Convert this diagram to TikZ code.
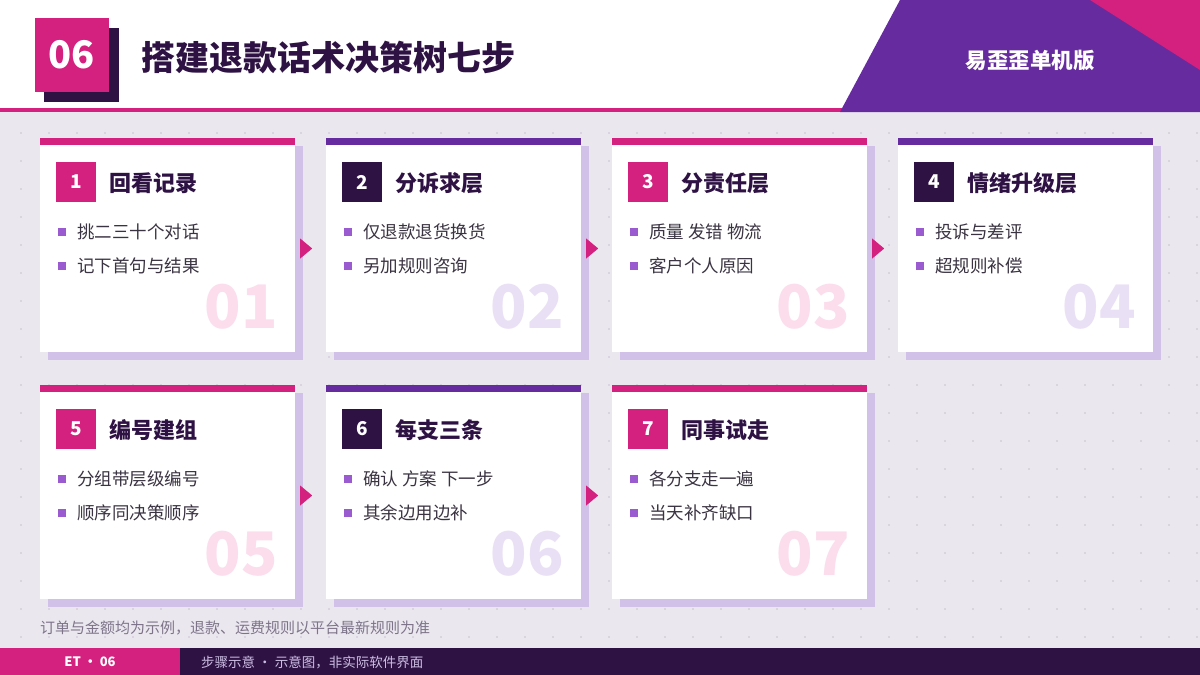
\documentclass[tikz,border=0pt]{standalone}
\usepackage{fontspec}
\setmainfont{Noto Sans CJK SC}
\usetikzlibrary{positioning}

\definecolor{mpink}{HTML}{D4207E}
\definecolor{mpurple}{HTML}{662B9E}
\definecolor{mdark}{HTML}{2E1244}
\definecolor{bgc}{HTML}{EBE7EF}
\definecolor{dotc}{HTML}{D9D4E0}
\definecolor{shadowc}{HTML}{D1C0E8}
\definecolor{bulc}{HTML}{9B5BD0}
\definecolor{txtc}{HTML}{3A3342}
\definecolor{lpink}{HTML}{FBDDEC}
\definecolor{lpurple}{HTML}{E9E0F5}
\definecolor{notec}{HTML}{7D7489}
\definecolor{foottxt}{HTML}{CDBEE3}

\begin{document}
\begin{tikzpicture}[x=1pt,y=-1pt]
	\def \rowoneht{138}
	\def \rowtwoht{385}
	\tikzstyle{badge}=[rectangle,inner sep=0pt,minimum size=40pt,text=white,font=\fontsize{19pt}{22pt}\selectfont\bfseries]
	\tikzstyle{ttl}=[inner sep=0pt,text=mdark,font=\fontsize{22pt}{26pt}\selectfont\bfseries]
	\tikzstyle{sq}=[rectangle,fill=bulc,inner sep=0pt,minimum size=8pt]
	\tikzstyle{btxt}=[inner sep=0pt,text=txtc,font=\fontsize{17.5pt}{21pt}\selectfont]
	\tikzstyle{bignum}=[inner sep=0pt,font=\fontsize{60pt}{64pt}\selectfont\bfseries]
	\tikzstyle{cardbody}=[rectangle,fill=white,inner sep=0pt,minimum width=255pt,minimum height=207pt]
	\useasboundingbox (0,0) rectangle (1200,675);
	
	% background and dots
	\fill[bgc] (0,0) rectangle (1200,675);
	\foreach \i in {0,...,42}
		\foreach \j in {4,...,22}
			\fill[dotc] (19.8+28*\i,19.8+28*\j) rectangle ++(2.4,2.4);
	
	% header
	\fill[white] (0,0) rectangle (1200,108);
	\fill[mpink] (0,108) rectangle (1200,112);
	\fill[mpurple] (900,0) -- (1200,0) -- (1200,112) -- (840,112) -- cycle;
	\fill[mpink] (1090,0) -- (1200,0) -- (1200,70) -- cycle;
	\fill[mdark] (44,28) rectangle (119,102);
	\node[rectangle,fill=mpink,minimum width=74pt,minimum height=74pt,inner sep=0pt,text=white,font=\fontsize{38pt}{40pt}\selectfont\bfseries] (secno) at (71.5,55) {06};
	\node[anchor=west,inner sep=0pt,text=mdark,font=\fontsize{34pt}{38pt}\selectfont\bfseries] (head) at (141,58) {搭建退款话术决策树七步};
	\node[inner sep=0pt,text=white,font=\fontsize{21.5pt}{24pt}\selectfont\bfseries] (edition) at (1030,60) {易歪歪单机版};
	
	% cards
	\foreach \n/\x/\y/\bc/\kc/\lc/\title/\a/\b in {
		1/40/\rowoneht/mpink/mpink/lpink/回看记录/挑二三十个对话/记下首句与结果,
		2/326/\rowoneht/mpurple/mdark/lpurple/分诉求层/仅退款退货换货/另加规则咨询,
		3/612/\rowoneht/mpink/mpink/lpink/分责任层/质量 发错 物流/客户个人原因,
		4/898/\rowoneht/mpurple/mdark/lpurple/情绪升级层/投诉与差评/超规则补偿,
		5/40/\rowtwoht/mpink/mpink/lpink/编号建组/分组带层级编号/顺序同决策顺序,
		6/326/\rowtwoht/mpurple/mdark/lpurple/每支三条/确认 方案 下一步/其余边用边补,
		7/612/\rowtwoht/mpink/mpink/lpink/同事试走/各分支走一遍/当天补齐缺口}{
		\fill[shadowc] (\x+8,\y+8) rectangle (\x+263,\y+222);
		\node[cardbody] (card\n) at (\x+127.5,\y+110.5) {};
		\fill[\bc] (\x,\y) rectangle (\x+255,\y+7);
		\node[bignum,text=\lc,anchor=base east] (num\n) at (\x+238,\y+190) {0\n};
		\node[badge,fill=\kc] (badge\n) at (\x+36,\y+44) {\n};
		\node[ttl,anchor=west,right=13pt of badge\n,yshift=-1.5pt] (title\n) {\title};
		\node[sq] (sa\n) at (\x+22,\y+94) {};
		\node[btxt,anchor=west,right=11pt of sa\n] (ta\n) {\a};
		\node[sq] (sb\n) at (\x+22,\y+128) {};
		\node[btxt,anchor=west,right=11pt of sb\n] (tb\n) {\b};
	}
	
	% step markers
	\foreach \i in {1,2,3,5,6}
		\fill[mpink] ([shift={(5,-10)}]card\i.east) -- ([shift={(17,0)}]card\i.east) -- ([shift={(5,10)}]card\i.east) -- cycle;
	
	% note and footer
	\node[anchor=west,inner sep=0pt,text=notec,font=\fontsize{15pt}{18pt}\selectfont] (note) at (40,627.5) {订单与金额均为示例，退款、运费规则以平台最新规则为准};
	\fill[mdark] (0,648) rectangle (1200,675);
	\fill[mpink] (0,648) rectangle (180,675);
	\node[inner sep=0pt,text=white,font=\fontsize{13pt}{15pt}\selectfont\bfseries] (footno) at (90,662) {ET · 06};
	\node[anchor=west,inner sep=0pt,text=foottxt,font=\fontsize{13.5pt}{16pt}\selectfont] (foot) at (201,662) {步骤示意 · 示意图，非实际软件界面};
\end{tikzpicture}
\end{document}
